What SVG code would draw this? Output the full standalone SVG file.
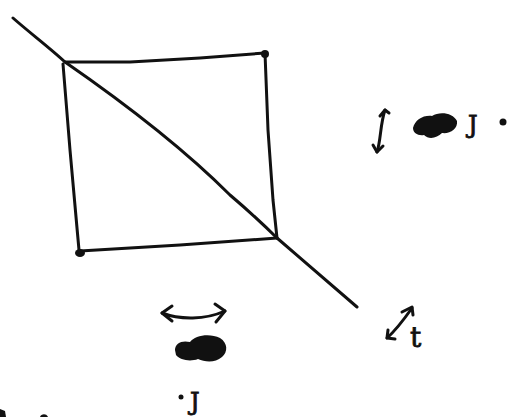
<svg xmlns="http://www.w3.org/2000/svg" width="525" height="417" viewBox="0 0 525 417">
<style>
.s{fill:none;stroke:#111;stroke-width:3;stroke-linecap:round;stroke-linejoin:round}
.f{fill:#111}
.t{font-family:"DejaVu Serif",serif;fill:#111;stroke:#111;stroke-width:0.8}
</style>
<rect width="525" height="417" fill="#fff"/>
<g id="square">
<path class="s" d="M65,62 L130,62 L200,58 L265,53"/>
<path class="s" d="M265,53 L268,130 L273,200 L277,238"/>
<path class="s" d="M277,238 L180,245 L80,251"/>
<path class="s" d="M63,64 L70,150 L77,228 L79,250"/>
<circle class="f" cx="265" cy="54" r="4"/>
<ellipse class="f" cx="80" cy="253" rx="5" ry="4"/>
</g>
<g id="connectors">
<path class="s" d="M13,18 C30,33 50,48 65,62 C120,100 180,145 230,195 C250,212 265,226 277,238 L357,307"/>
</g>
<g id="label-right">
<path class="s" d="M385,110 C380,125 381,140 377,152"/>
<path class="s" d="M380,116 L385,110 L389,113"/>
<path class="s" d="M373,145 L377,152 L383,146"/>
<path class="f" d="M413,128 C415,120 423,115 432,116 C440,111 453,113 457,121 C458,129 450,134 442,133 C437,138 429,140 424,135 C418,136 413,133 413,128 Z"/>
<text class="t" x="468" y="133" font-size="24">J</text>
<circle class="f" cx="503" cy="122" r="3.5"/>
</g>
<g id="label-bottom">
<path class="s" d="M162,313 C180,320 205,320 225,311"/>
<path class="s" d="M172,306 L162,313 L172,321"/>
<path class="s" d="M215,304 L225,311 L216,322"/>
<path class="f" d="M175,350 C175,343 182,340 190,342 C195,335 210,333 220,338 C228,343 228,352 222,357 C215,363 205,362 198,359 C190,362 180,360 176,355 Z"/>
<circle class="f" cx="181" cy="397" r="2.5"/>
<text class="t" x="190" y="410" font-size="24">J</text>
</g>
<g id="label-diagonal">
<path class="s" d="M412,308 C405,318 396,330 387,338"/>
<path class="s" d="M402,312 L412,307 L413,315"/>
<path class="s" d="M388,330 L387,338 L395,339"/>
<text class="t" x="410" y="347" font-size="28" font-family="DejaVu Sans, sans-serif">t</text>
</g>
<g id="fragments">
<path class="f" d="M0,409 L5,411 L6,417 L0,417 Z"/>
<path class="f" d="M40,417 C41,414 46,413 48,417 Z"/>
</g>
</svg>
